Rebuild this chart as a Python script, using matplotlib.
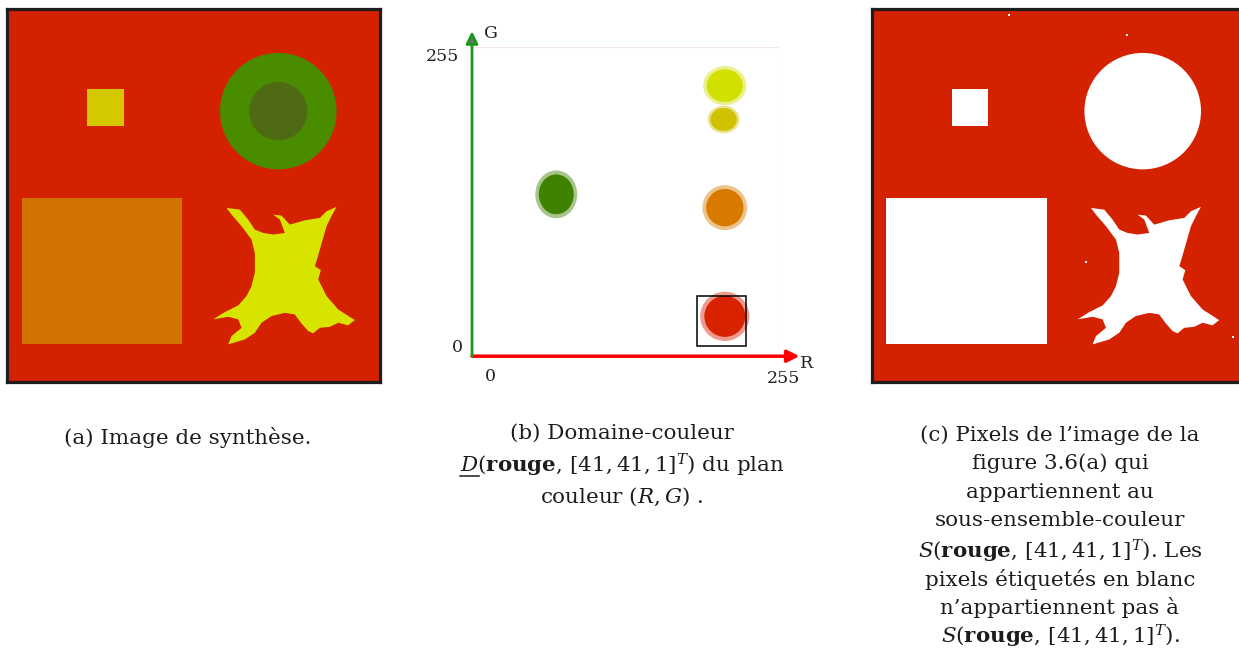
import numpy as np
import matplotlib.pyplot as plt
from matplotlib.patches import Rectangle, Circle, Ellipse, Polygon

plt.rcParams['font.family'] = 'DejaVu Serif'
plt.rcParams['mathtext.fontset'] = 'dejavuserif'

# synthetic image, coordinates in pixels of a 256x256 image (y going down)
small_sq = [55, 55, 25, 25]      # x, y, w, h
big_sq = [10, 130, 110, 100]
disk_xy = [186, 70]
disk_r_out = 40
disk_r_in = 20
star_x = [150.5, 159.6, 165.3, 169.9, 175.6, 182.5, 190.5, 187.1, 182.5, 188.2, 193.9, 204.2,
          214.5, 219.1, 225.9, 222.5, 219.1, 216.8, 214.5, 212.2, 211.1, 215.2, 213.4, 219.1,
          227.1, 238.5, 233.9, 227.1, 221.4, 214.5, 209.9, 206.5, 201.9, 197.3, 190.5, 181.3,
          174.5, 169.9, 163.0, 151.6, 153.9, 160.8, 158.5, 151.6, 141.3, 149.3, 158.5, 164.2,
          167.6, 169.9, 169.9, 167.6, 160.8, 153.9]
star_y = [136.5, 137.7, 144.5, 151.4, 153.7, 154.8, 153.7, 144.5, 141.1, 141.8, 148.0, 145.0,
          143.4, 138.8, 135.8, 142.2, 149.1, 157.1, 165.1, 173.1, 176.5, 179.3, 185.7, 197.1,
          206.3, 213.6, 217.2, 215.4, 218.2, 218.9, 222.7, 221.1, 215.9, 209.7, 208.6, 210.8,
          215.4, 222.3, 226.9, 230.3, 224.6, 218.9, 213.1, 211.3, 213.1, 208.1, 203.5, 197.1,
          190.3, 181.1, 167.4, 158.2, 149.1, 141.1]
speck_x = [94, 175, 147, 248]
speck_y = [4, 18, 174, 225]

col_bg = '#d42200'
col_small = '#d4c800'
col_ring = '#4a8c00'
col_core = '#4e6a12'
col_big = '#d27200'
col_star = '#d6e400'

# colour domain in the (R, G) plane
clu_r = [70, 210, 209, 210, 210]
clu_g = [133, 223, 195, 122, 32]
clu_w = [29, 30, 22, 31, 34]
clu_h = [33, 27, 19, 31, 34]
clu_col = ['#3f8200', '#d2e000', '#d0c200', '#d87a00', '#d82200']
box_rg = [207, 28]
box_size = 41

cap_a = ['(a) Image de synthèse.']
cap_b = ['(b) Domaine-couleur',
         r'$D(\mathbf{rouge},\, [41, 41, 1]^T)$ du plan',
         r'couleur $(R, G)$ .']
cap_c = ["(c) Pixels de l\u2019image de la",
         'figure 3.6(a) qui',
         'appartiennent au',
         'sous-ensemble-couleur',
         r'$S(\mathbf{rouge},\, [41, 41, 1]^T)$. Les',
         'pixels étiquetés en blanc',
         'n\u2019appartiennent pas à',
         r'$S(\mathbf{rouge},\, [41, 41, 1]^T)$.']
cap_c_y = [435, 463, 492, 521, 551, 580, 608, 636]
cap_b_y = [433, 465, 497]

W, H = 1239, 651
fig = plt.figure(figsize=(W / 100, H / 100), dpi=100)


def draw_image(ax, white=False):
    c = lambda col: 'white' if white else col
    ax.set_facecolor(col_bg)
    ax.add_patch(Rectangle(small_sq[:2], small_sq[2], small_sq[3], color=c(col_small), lw=0))
    ax.add_patch(Rectangle(big_sq[:2], big_sq[2], big_sq[3], color=c(col_big), lw=0))
    ax.add_patch(Circle(disk_xy, disk_r_out, color=c(col_ring), lw=0))
    ax.add_patch(Circle(disk_xy, disk_r_in, color=c(col_core), lw=0))
    ax.add_patch(Polygon(np.column_stack([star_x, star_y]), color=c(col_star), lw=0))
    if white:
        ax.scatter(speck_x, speck_y, s=2, c='white', marker='s', lw=0)
    ax.set_xlim(0, 256)
    ax.set_ylim(256, 0)
    ax.set_xticks([])
    ax.set_yticks([])
    for s in ax.spines.values():
        s.set_linewidth(2.3)
        s.set_color('#1e1e1e')


ax_a = fig.add_axes([7.3 / W, (H - 381.8) / H, 373 / W, 372.5 / H])
draw_image(ax_a)
ax_c = fig.add_axes([871.7 / W, (H - 381.8) / H, 373 / W, 372.5 / H])
draw_image(ax_c, white=True)

# (R, G) plane
ax_b = fig.add_axes([472 / W, (H - 355) / H, 307 / W, 308 / H])
ax_b.set_xlim(0, 255)
ax_b.set_ylim(0, 255)
ax_b.axis('off')
ax_b.add_patch(Rectangle((0, 0), 255, 255, fill=False, ec='#f7e6f7', lw=1))
for r, g, w, h, col in zip(clu_r, clu_g, clu_w, clu_h, clu_col):
    ax_b.add_patch(Ellipse((r, g), w * 1.2, h * 1.2, color=col, alpha=0.45, lw=0))
    ax_b.add_patch(Ellipse((r, g), w, h, color=col, lw=0))
ax_b.add_patch(Rectangle((box_rg[0] - box_size / 2, box_rg[1] - box_size / 2), box_size, box_size,
                         fill=False, ec='black', lw=1.1))
ax_b.annotate('', xy=(272, -1), xytext=(0, -1), annotation_clip=False,
              arrowprops=dict(arrowstyle='-|>', color='#ff0000', lw=2.5, mutation_scale=18,
                              shrinkA=0, shrinkB=0))
ax_b.annotate('', xy=(0, 268), xytext=(0, -1), annotation_clip=False,
              arrowprops=dict(arrowstyle='-|>', ec='#1a9a1a', fc='#707070', lw=2, mutation_scale=18,
                              shrinkA=0, shrinkB=0))
tk = dict(fontsize=12.5, color='#222222', clip_on=False)
ax_b.text(-10.5, 247.5, '255', ha='right', va='center', **tk)
ax_b.text(-7.5, 6, '0', ha='right', va='center', **tk)
ax_b.text(15, -18, '0', ha='center', va='center', **tk)
ax_b.text(258.5, -19.5, '255', ha='center', va='center', **tk)
ax_b.text(16, 266, 'G', ha='center', va='center', **tk)
ax_b.text(278, -7, 'R', ha='center', va='center', **tk)

# captions
fs = 15.4
cap = dict(fontsize=fs, color='#1c1c1c', ha='center', va='center')
fig.text(187.5 / W, 1 - 437 / H, cap_a[0], **cap)
tb = [fig.text(622 / W, 1 - y / H, s, **cap) for s, y in zip(cap_b, cap_b_y)]
for s, y in zip(cap_c, cap_c_y):
    fig.text(1060 / W, 1 - y / H, s, **cap)

# underline under the D of line 2 in (b)
fig.canvas.draw()
rend = fig.canvas.get_renderer()
bb = tb[1].get_window_extent(rend)
tmp = fig.text(0, 0, r'$D$', fontsize=fs)
dw = tmp.get_window_extent(rend).width
tmp.remove()
uy = (bb.y0 + 3) / H
fig.add_artist(plt.Line2D([bb.x0 / W, (bb.x0 + dw) / W], [uy, uy], color='#1c1c1c', lw=1.1))

fig.savefig('out.png', dpi=100)
